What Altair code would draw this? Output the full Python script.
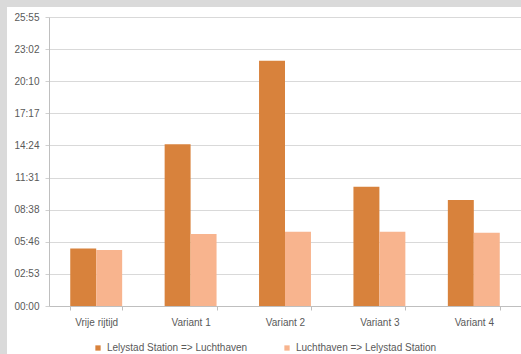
import altair as alt
import pandas as pd

categories = ["Vrije rijtijd", "Variant 1", "Variant 2", "Variant 3", "Variant 4"]
series = ["Lelystad Station => Luchthaven", "Luchthaven => Lelystad Station"]
heen = ["05:10", "14:30", "22:00", "10:42", "09:30"]
terug = ["05:01", "06:27", "06:40", "06:40", "06:34"]
tick_labels = ["00:00", "02:53", "05:46", "08:38", "11:31", "14:24", "17:17", "20:10", "23:02", "25:55"]
tick_step = 172.8  # seconds (0.002 day)
colors = ["#D8823C", "#F8B48E"]

W = 472   # plot width
H = 289   # plot height
PAD = {"left": 49, "top": 17, "right": 0, "bottom": 48}


def to_sec(s):
    m, sec = s.split(":")
    return int(m) * 60 + int(sec)


rows = []
for c, a, b in zip(categories, heen, terug):
    rows.append({"cat": c, "serie": series[0], "sec": to_sec(a), "lbl": a})
    rows.append({"cat": c, "serie": series[1], "sec": to_sec(b), "lbl": b})
df = pd.DataFrame(rows)

tick_values = [round(i * tick_step, 1) for i in range(len(tick_labels))]
label_expr = "[" + ",".join(f"'{t}'" for t in tick_labels) + "][round(datum.value / %s)]" % tick_step

text_color = "#595959"
line_color = "#d9d9d9"

bars = alt.Chart(df).mark_bar().encode(
    x=alt.X(
        "cat:N",
        sort=categories,
        title=None,
        scale=alt.Scale(paddingInner=0.45, paddingOuter=0.225),
        axis=alt.Axis(
            labelAngle=0,
            tickBand="extent",
            ticks=True,
            tickSize=4,
            tickColor="#bfbfbf",
            domainColor="#bfbfbf",
            labelPadding=7,
            labelColor=text_color,
            labelFontSize=10,
            labelFont="Liberation Sans",
        ),
    ),
    xOffset=alt.XOffset("serie:N", sort=series, scale=alt.Scale(paddingInner=0, paddingOuter=0)),
    y=alt.Y(
        "sec:Q",
        title=None,
        scale=alt.Scale(domain=[0, 1555.2], nice=False, zero=True),
        axis=alt.Axis(
            values=tick_values,
            labelExpr=label_expr,
            grid=True,
            gridColor=line_color,
            gridWidth=1.2,
            domainColor="#bfbfbf",
            tickColor="#d0d0d0",
            tickSize=4,
            labelPadding=6,
            labelColor=text_color,
            labelFontSize=10,
            labelFont="Liberation Sans",
        ),
    ),
    color=alt.Color(
        "serie:N",
        sort=series,
        scale=alt.Scale(domain=series, range=colors),
        legend=alt.Legend(
            title=None,
            orient="none",
            legendX=44,
            legendY=326,
            direction="horizontal",
            symbolType="square",
            symbolSize=28,
            symbolStrokeWidth=0,
            columnPadding=34,
            labelOffset=4,
            labelColor=text_color,
            labelFontSize=10,
            labelFont="Liberation Sans",
            padding=0,
        ),
    ),
)

# grey frame strips along the top and left edge of the picture (decoration only)
frame_top = alt.Chart(pd.DataFrame({"d": [0]})).mark_rect(color="#dadada").encode(
    x=alt.value(-PAD["left"]), x2=alt.value(W), y=alt.value(-PAD["top"]), y2=alt.value(-PAD["top"] + 7)
)
frame_left = alt.Chart(pd.DataFrame({"d": [0]})).mark_rect(color="#dadada").encode(
    x=alt.value(-PAD["left"]), x2=alt.value(-PAD["left"] + 7), y=alt.value(-PAD["top"]), y2=alt.value(H + PAD["bottom"])
)

chart = (
    alt.layer(frame_top, frame_left, bars)
    .properties(
        width=W,
        height=H,
        autosize=alt.AutoSizeParams(type="none"),
        padding=PAD,
        background="#ffffff",
        view=alt.ViewBackground(stroke="transparent", strokeOpacity=0, strokeWidth=0),
    )
    .configure_view(stroke="transparent", strokeOpacity=0, strokeWidth=0)
)

chart.save("out.html", embed_options={"renderer": "svg", "actions": False})
